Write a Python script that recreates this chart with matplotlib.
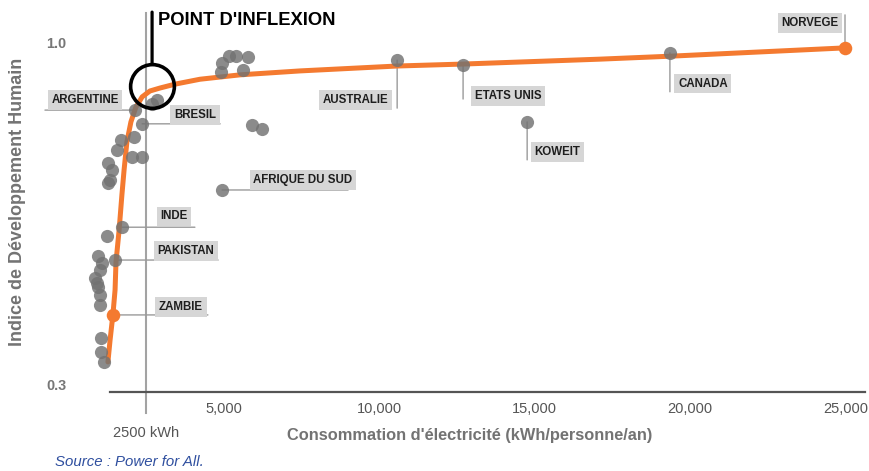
import matplotlib
matplotlib.use("Agg")
import matplotlib.pyplot as plt
from matplotlib import font_manager as fm

# ---------------- data ----------------
gray_x = [4950, 4920, 5170, 5400, 5780, 5620, 2860, 2700, 2150, 2380,
          1700, 1570, 2120, 2050, 2380, 1280, 1410, 1350, 1280, 1730,
          1250, 960, 1090, 1030, 865, 960, 1030, 1030, 930, 1510,
          1060, 1060, 1150, 4950, 5910, 6230, 10580, 12700, 14760, 19350]
gray_y = [0.957, 0.939, 0.971, 0.971, 0.969, 0.943, 0.882, 0.873, 0.861, 0.833,
          0.800, 0.780, 0.806, 0.765, 0.765, 0.753, 0.739, 0.718, 0.712, 0.622,
          0.604, 0.563, 0.549, 0.535, 0.518, 0.500, 0.484, 0.463, 0.508, 0.555,
          0.396, 0.367, 0.347, 0.698, 0.831, 0.822, 0.963, 0.953, 0.837, 0.978]

curve_x = [1280, 1350, 1440, 1510, 1540, 1640, 1730, 1800, 1890, 2020, 2180,
           2380, 2630, 2950, 3440, 4240, 5530, 7460, 10580, 12700, 17100,
           19350, 24980]
curve_y = [0.347, 0.392, 0.443, 0.494, 0.551, 0.616, 0.688, 0.739, 0.796, 0.837,
           0.867, 0.888, 0.900, 0.906, 0.914, 0.924, 0.933, 0.941, 0.951, 0.955,
           0.965, 0.971, 0.988]

highlight_x = [1440, 24980]      # Zambie, Norvège
highlight_y = [0.443, 0.988]

label_names = ["ARGENTINE", "BRESIL", "AFRIQUE DU SUD", "INDE", "PAKISTAN",
               "ZAMBIE", "AUSTRALIE", "ETATS UNIS", "KOWEIT", "CANADA", "NORVEGE"]
label_x = [2150, 2380, 4950, 1730, 1510, 1440, 10580, 12700, 14760, 19350, 24980]
label_y = [0.861, 0.833, 0.698, 0.622, 0.555, 0.443, 0.963, 0.953, 0.837, 0.978, 0.988]

xtick_values = [5000, 10000, 15000, 20000, 25000]
xtick_labels = ["5,000", "10,000", "15,000", "20,000", "25,000"]
ytick_values = [0.3, 1.0]
ytick_labels = ["0.3", "1.0"]

threshold_kwh = 2500
threshold_label = "2500 kWh"
inflexion_x = 2700
inflexion_y = 0.910

title_text = "POINT D'INFLEXION"
xlabel_text = "Consommation d'électricité (kWh/personne/an)"
ylabel_text = "Indice de Développement Humain"
source_text = "Source : Power for All."

# ---------------- style ----------------
# label text offset and leader-line end offset (pixels, y up)
label_style = {
    "ARGENTINE":      ((-50, 10), (-90, 0)),
    "BRESIL":         ((53, 9), (78, 0)),
    "AFRIQUE DU SUD": ((81, 10), (126, 0)),
    "INDE":           ((52, 11), (73, 0)),
    "PAKISTAN":       ((71, 9), (103, 0)),
    "ZAMBIE":         ((68, 8), (95, 0)),
    "AUSTRALIE":      ((-42, -40), (0, -48)),
    "ETATS UNIS":     ((45, -31), (0, -34)),
    "KOWEIT":         ((30, -30), (0, -38)),
    "CANADA":         ((33, -31), (0, -39)),
    "NORVEGE":        ((-35, 25), (0, 33)),
}

names = {f.name for f in fm.fontManager.ttflist}
HAS_NARROW = "Liberation Sans Narrow" in names
narrow = ["Liberation Sans Narrow", "Liberation Sans", "DejaVu Sans"]
sans = ["Liberation Sans", "DejaVu Sans"]
lab_size = 10 if HAS_NARROW else 8.3
tick_size = 12.5 if HAS_NARROW else 10.5

ORANGE = "#f47a30"
GRAY_PT = "#727272"
AX_GRAY = "#737373"

fig = plt.figure(figsize=(8.69, 4.71), dpi=100)
ax = fig.add_axes([0.07837, 0.16773, 0.91703, 0.81529])
ax.set_xlim(0, 25623)
ax.set_ylim(0.2857, 1.0694)

for s in ("top", "right", "left"):
    ax.spines[s].set_visible(False)
ax.spines["bottom"].set_color("#555555")
ax.spines["bottom"].set_linewidth(1.6)
ax.spines["bottom"].set_bounds(1347, 25623)

ax.set_xticks(xtick_values)
ax.set_xticklabels(xtick_labels, family=narrow, fontsize=tick_size, color="#555555")
ax.set_yticks(ytick_values)
ax.set_yticklabels(ytick_labels, family=sans, fontsize=10.4, fontweight="bold",
                   color="#777777")
ax.tick_params(axis="x", length=0, pad=7)
ax.tick_params(axis="y", length=0, pad=1)

# threshold vertical line
ax.axvline(threshold_kwh, ymin=-0.055, ymax=0.987, color="#a3a3a3", lw=1.5,
           clip_on=False, zorder=1)
ax.annotate(threshold_label, xy=(threshold_kwh, 0), xycoords=("data", "axes fraction"),
            xytext=(0, -41), textcoords="offset pixels", ha="center", va="center",
            family=narrow, fontsize=tick_size, color="#555555", annotation_clip=False)

# fitted curve
ax.plot(curve_x, curve_y, color=ORANGE, lw=3.6, solid_capstyle="round",
        solid_joinstyle="round", zorder=2)

# leader lines and labels
for name, lx, ly in zip(label_names, label_x, label_y):
    (tdx, tdy), (ldx, ldy) = label_style[name]
    ax.annotate("", xy=(lx, ly), xytext=(ldx, ldy), textcoords="offset pixels",
                arrowprops=dict(arrowstyle="-", color="#9a9a9a", lw=1.0,
                                shrinkA=0, shrinkB=0),
                zorder=1.5, annotation_clip=False)
    ax.annotate(name, xy=(lx, ly), xytext=(tdx, tdy), textcoords="offset pixels",
                ha="center", va="center", family=narrow, fontsize=lab_size,
                fontweight="bold", color="#1e1e1e",
                bbox=dict(boxstyle="square,pad=0.32", fc="#d6d6d6", ec="none"),
                zorder=1.6, annotation_clip=False)

# points
ax.scatter(gray_x, gray_y, s=90, color=GRAY_PT, alpha=0.82, lw=0, zorder=3)
ax.scatter(highlight_x, highlight_y, s=95, color=ORANGE, lw=0, zorder=4)

# inflexion point marker
ax.plot([inflexion_x], [inflexion_y], marker="o", markersize=31.5, mfc="none",
        mec="black", mew=2.6, zorder=5)
ax.annotate("", xy=(inflexion_x, inflexion_y), xytext=(0, 74), textcoords="offset pixels",
            arrowprops=dict(arrowstyle="-", color="black", lw=2.3,
                            shrinkA=0, shrinkB=15.8),
            annotation_clip=False, zorder=5)
ax.annotate(title_text, xy=(inflexion_x, inflexion_y), xytext=(6, 66),
            textcoords="offset pixels", ha="left", va="center", family=sans,
            fontsize=13.2, fontweight="bold", color="black", annotation_clip=False)

# axis labels
ax.set_xlabel(xlabel_text, family=sans, fontsize=11.8, fontweight="bold",
              color=AX_GRAY, va="center")
ax.xaxis.set_label_coords(0.5043, -0.112)
ax.set_ylabel(ylabel_text, family=sans, fontsize=13.0, fontweight="bold",
              color=AX_GRAY, va="center")
ax.yaxis.set_label_coords(-0.0629, 0.495)

fig.text(55 / 869, 1 - 462 / 471, source_text, family=sans, style="italic",
         fontsize=10.8, color="#2f4f9f", ha="left", va="center")

fig.savefig("out.png", dpi=100)
